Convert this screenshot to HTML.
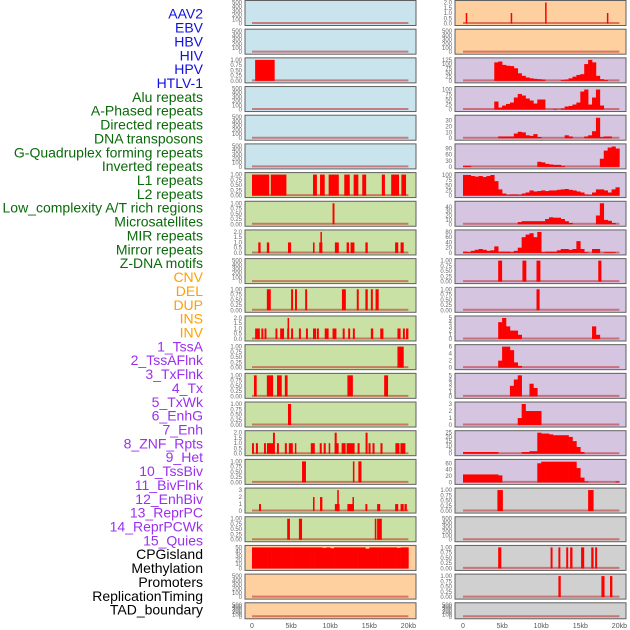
<!DOCTYPE html>
<html><head><meta charset="utf-8">
<style>
html,body{margin:0;padding:0;background:#fff;}
svg{display:block;font-family:"Liberation Sans",sans-serif;}
</style></head>
<body>
<svg id="chart" width="630" height="630" viewBox="0 0 630 630"></svg>
<script>
// ---- labels ----
const labelNames = ["AAV2","EBV","HBV","HIV","HPV","HTLV-1","Alu repeats","A-Phased repeats","Directed repeats","DNA transposons","G-Quadruplex forming repeats","Inverted repeats","L1 repeats","L2 repeats","Low_complexity A/T rich regions","Microsatellites","MIR repeats","Mirror repeats","Z-DNA motifs","CNV","DEL","DUP","INS","INV","1_TssA","2_TssAFlnk","3_TxFlnk","4_Tx","5_TxWk","6_EnhG","7_Enh","8_ZNF_Rpts","9_Het","10_TssBiv","11_BivFlnk","12_EnhBiv","13_ReprPC","14_ReprPCWk","15_Quies","CPGisland","Methylation","Promoters","ReplicationTiming","TAD_boundary"];
const labelGroups = ["v","v","v","v","v","v","r","r","r","r","r","r","r","r","r","r","r","r","r","c","c","c","c","c","s","s","s","s","s","s","s","s","s","s","s","s","s","s","s","o","o","o","o","o"];
const xTickLabels = ["0","5kb","10kb","15kb","20kb"];
const xTickValues = [0,5,10,15,20];

// ---- tick sets ----
const T500 = ["0","100","200","300","400","500"];
const T1 = ["0.00","0.25","0.50","0.75","1.00"];
const T2 = ["0.0","0.5","1.0","1.5","2.0"];

// ---- left column data (bars: [startKb, endKb, value]) ----
const L2_bars = [[0.4,2.9,1]];
const L6_bars = [[0,2.2,1],[2.4,4.4,1],[7.8,8.3,1],[8.7,9.3,1],[9.8,11.1,1],[11.8,12.5,1],[13,13.6,1],[14.1,14.6,1],[16.6,17,1],[17.8,18.8,1],[19.1,19.7,1]];
const L7_bars = [[10.3,10.55,1]];
const L8_bars = [[0.8,1.1,1],[1.9,2.2,1],[4.6,5.0,1],[7.8,8.0,1],[8.6,9.0,1],[8.75,8.9,2],[10.6,11.1,1],[12.1,12.4,1],[12.6,13.1,1],[14.5,14.8,1],[18.3,18.7,1],[19.0,19.4,1]];
const L10_bars = [[1.9,2.4,1],[5.0,5.25,1],[5.5,5.75,1],[6.8,7.05,1],[11.5,12.0,1],[13.4,13.65,1],[14.5,14.8,1],[15.2,15.45,1],[15.8,16.2,1]];
const L11_bars = [[0.4,0.65,1],[0.6,1.0,1],[1.2,1.45,1],[1.6,1.85,1],[3.0,3.25,1],[3.6,4.1,1],[4.5,4.75,1],[4.55,4.7,2],[5.0,5.25,1],[6.0,6.25,1],[6.9,7.15,1],[7.8,8.2,1],[8.3,8.55,1],[9.3,9.8,1],[10.3,10.8,1],[11.6,11.85,1],[12.3,12.55,1],[12.9,13.15,1],[15.2,15.5,1],[16.4,16.8,1],[18.6,19.0,1],[19.3,19.55,1],[19.7,20,1]];
const L12_bars = [[18.6,19.4,1]];
const L13_bars = [[0.25,0.6,1],[1.9,2.7,1],[3.2,3.8,1],[4.2,4.55,1],[12.2,12.9,1],[16.9,17.4,1]];
const L14_bars = [[4.6,5.0,1]];
const L15_bars = [[0,0.25,1],[0.5,0.76,1],[1.53,1.78,1],[1.91,2.8,1],[2.68,2.93,2],[3.19,3.44,1],[4.2,4.46,1],[4.71,5.22,1],[5.48,5.6,1],[7.52,8.03,1],[8.66,8.92,1],[9.17,9.43,1],[9.81,9.94,1],[10.57,11.08,1],[10.57,10.83,2],[11.46,11.97,1],[12.1,13.12,1],[13.5,13.76,1],[14.52,14.78,2],[14.9,15.16,1],[15.41,15.67,1],[16.43,16.69,1],[18.34,18.85,1],[18.98,19.61,1]];
const L16_bars = [[6.4,6.9,1],[12.9,13.1,1],[13.6,14.0,1]];
const L17_bars = [[0.9,1.15,1],[7.8,8.0,2],[8.7,9.0,2],[10.6,11.2,1],[10.9,11.1,3],[12.2,13.0,1],[12.85,13.0,2],[14.5,14.75,1],[16.0,16.4,1],[18.3,18.7,1],[19.0,19.4,1],[19.5,19.8,1]];
const L18_bars = [[4.5,4.85,1],[6.0,6.4,1],[15.7,15.9,1],[16.0,16.6,1]];
const L19_vals = [50,50,50,50,50,50,50,50,50,50,50,50,50,50,50,50,50,50,49,50,48,50,50,50,50,50,50,50,50,47,50,50,50,50,50,50,50,49,50,50];

// ---- right column data ----
const R0_bars = [[0.35,0.5,1],[6.1,6.25,1],[10.5,10.65,2],[18.4,18.55,1]];
const R2_vals = [0,0,0,0,0,0,0,0,110,115,95,90,88,75,45,30,20,15,12,10,8,0,0,0,0,5,8,15,25,35,40,100,125,110,30,10,5,0,0,0];
const R3_vals = [0,0,0,0,0,0,0,0,40,10,20,28,35,60,78,70,55,45,30,50,50,0,0,3,0,5,15,18,25,35,90,100,25,60,100,20,0,0,0,0];
const R4_vals = [0,0,0,0,0,0,0,0,0,3,3,3,3,8,11,10,5,4,7,2,0,0,0,0,0,0,5,3,0,0,0,3,5,12,35,2,3,3,0,0];
const R5_vals = [5,5,0,0,0,0,0,0,0,0,0,0,0,0,0,0,0,0,0,25,22,15,12,10,10,5,0,0,0,0,0,0,0,0,0,40,80,95,100,90];
const R6_vals = [100,100,95,92,95,90,95,100,70,30,10,3,5,5,3,10,15,25,20,22,25,22,25,25,28,30,32,28,25,20,15,5,3,15,30,30,25,15,30,40];
const R7_vals = [0,0,0,0,0,0,0,0,0,0,0,0,0,0,5,7,7,7,7,7,7,12,16,15,15,12,7,3,0,0,0,0,0,0,20,48,10,8,3,0];
const R8_vals = [5,3,8,12,15,12,8,10,25,5,5,5,3,8,20,60,70,75,60,80,3,5,5,5,10,15,15,12,15,45,15,3,0,15,15,0,3,3,3,0];
const R9_bars = [[4.5,5.0,1],[7.6,8.1,1],[9.4,9.9,1],[17.3,17.7,1]];
const R10_bars = [[9.4,9.8,1]];
const R11_vals = [0,0,0,0,0,0,0,0,0,4,5,3,2,2,1,0,0,0,0,0,0,0,0,0,0,0,0,0,0,0,0,0,0,3,1,0,0,0,0,0];
const R12_vals = [0,0,0,0,0,0,0,0,0,2,6,6,5,1.5,0.5,0,0,0,0,0,0,0,0,0,0,0,0,0,0,0,0,0,0,0,0,0,0,0,0,0];
const R13_vals = [0,0,0,0,0,0,0,0,0,0,0,0,2.5,4,5,0,0,3,2,0,0,0,0,0,0,0,0,0,0,0,0,0,0,0,0,0,0,0,0,0];
const R14_vals = [0,0,0,0,0,0,0,0,0,0,0,0,0,0,1,3,2,2,2,2,0,0,0,0,0,0,0,0,0,0,0,0,0,0,0,0,0,0,0,0];
const R15_vals = [2,2,2,2,2,2,2,2,2,0,0,0,0,0,0,2,2,3,3,25,24,24,23,22,22,22,22,20,15,8,2,0,0,0,0,0,0,0,0,0];
const R16_vals = [25,25,25,25,25,25,25,25,25,22,0,0,0,0,0,0,0,0,0,60,65,65,65,65,65,65,65,65,65,45,15,3,0,0,0,0,0,0,0,3];
const R17_bars = [[4.4,5.1,1],[16.0,16.7,1]];
const R19_bars = [[4.5,4.9,1],[11.2,11.45,1],[12.2,12.45,1],[13.2,13.45,1],[13.7,14.0,1],[15.1,15.5,1],[16.4,16.7,1],[16.9,17.15,1]];
const R20_bars = [[12.2,12.5,1],[17.7,18.1,1],[18.8,19.1,1]];

const BG = {blue:"#c9e4ec", green:"#c9e1a4", peach:"#fecf9f", lav:"#d5c5e1", gray:"#d0d0d0"};
// panel specs: [col,row,bg,ticks,ymax,bars,vals]
const panels = [
 [0,0,"blue",T500,500,null,null],[0,1,"blue",T500,500,null,null],[0,2,"blue",T1,1,L2_bars,null],
 [0,3,"blue",T500,500,null,null],[0,4,"blue",T500,500,null,null],[0,5,"blue",T500,500,null,null],
 [0,6,"green",T1,1,L6_bars,null],[0,7,"green",T1,1,L7_bars,null],[0,8,"green",T2,2,L8_bars,null],
 [0,9,"green",T500,500,null,null],[0,10,"green",T1,1,L10_bars,null],[0,11,"green",T2,2,L11_bars,null],
 [0,12,"green",T1,1,L12_bars,null],[0,13,"green",T1,1,L13_bars,null],[0,14,"green",T1,1,L14_bars,null],
 [0,15,"green",T2,2,L15_bars,null],[0,16,"green",T1,1,L16_bars,null],[0,17,"green",["0","1","2","3"],3,L17_bars,null],
 [0,18,"green",T1,1,L18_bars,null],[0,19,"peach",["0","10","20","30","40","50"],50,null,L19_vals],
 [0,20,"peach",T500,500,null,null],[0,21,"peach",T500,500,null,null],
 [1,0,"peach",T2,2,R0_bars,null],[1,1,"peach",T500,500,null,null],
 [1,2,"lav",["0","25","50","75","100","125"],125,null,R2_vals],
 [1,3,"lav",["0","25","50","75","100"],105,null,R3_vals],
 [1,4,"lav",["0","10","20","30"],36,null,R4_vals],
 [1,5,"lav",["0","30","60","90"],103,null,R5_vals],
 [1,6,"lav",["0","25","50","75","100"],102,null,R6_vals],
 [1,7,"lav",["0","10","20","30","40"],48,null,R7_vals],
 [1,8,"lav",["0","20","40","60","80"],80,null,R8_vals],
 [1,9,"lav",T1,1,R9_bars,null],[1,10,"lav",T1,1,R10_bars,null],
 [1,11,"lav",["0","1","2","3","4","5"],5,null,R11_vals],
 [1,12,"lav",["0","2","4","6"],6,null,R12_vals],
 [1,13,"lav",["0","1","2","3","4","5"],5,null,R13_vals],
 [1,14,"lav",["0","1","2","3"],3,null,R14_vals],
 [1,15,"lav",["0","5","10","15","20","25"],25,null,R15_vals],
 [1,16,"lav",["0","20","40","60"],66,null,R16_vals],
 [1,17,"gray",T1,1,R17_bars,null],[1,18,"gray",T500,500,null,null],
 [1,19,"gray",T1,1,R19_bars,null],[1,20,"gray",T1,1,R20_bars,null],[1,21,"gray",T500,500,null,null]
];

const NS="http://www.w3.org/2000/svg";
const svg=document.getElementById("chart");
function mk(tag,attrs,parent){const e=document.createElementNS(NS,tag);for(const k in attrs)e.setAttribute(k,attrs[k]);(parent||svg).appendChild(e);return e;}
const BIN=0.5;
function panelLeft(col){return col===0?245:455;}
function xScale(col,kb){return (col===0?252:463)+kb*7.82;}
function rowTop(r){return 0.5+r*28.68;}
function rowH(r){return r===21?16:25;}
const colors={v:"#1010e0",r:"#0a6a0a",c:"#ffa000",s:"#9b30f0",o:"#000"};

labelNames.forEach((n,i)=>{
  const t=mk("text",{x:203,y:15+i*13.86,"text-anchor":"end","dominant-baseline":"middle","font-size":"14",fill:colors[labelGroups[i]]});
  
  
  t.textContent=n;
});

panels.forEach(p=>{
  const [col,row,bg,ticks,ymax,bars,vals]=p;
  const g=mk("g",{});
  
  
  const x0=panelLeft(col), top=rowTop(row), h=rowH(row);
  const pt=top+2, pb=top+h-2;
  const ys=v=>pb-v/ymax*(pb-pt);
  const bgr=mk("rect",{x:x0,y:top,width:171,height:h,fill:BG[bg],stroke:"#606060","stroke-width":1},g);
  
  
  ticks.forEach(tl=>{
    const t=mk("text",{x:x0-3,y:ys(parseFloat(tl))+2,"text-anchor":"end","font-size":"6",fill:"#666"},g);
    
    
    t.textContent=tl;
  });
  const base=mk("line",{x1:xScale(col,0),x2:xScale(col,20),y1:pb-0.5,y2:pb-0.5,stroke:"rgba(190,40,40,0.55)","stroke-width":2},g);
  
  
  if(bars){bars.forEach(b=>{
    const xa=xScale(col,b[0]), xb=Math.max(xScale(col,b[1]),xa+1.5);
    const r=mk("rect",{x:xa,y:ys(b[2]),width:xb-xa,height:pb-ys(b[2]),fill:"#ff0000"},g);
    
    
  });}
  if(vals){vals.forEach((v,i)=>{
    if(v<=0)return;
    const xa=xScale(col,i*BIN), xb=xScale(col,(i+1)*BIN);
    const r=mk("rect",{x:xa,y:ys(v),width:xb-xa+0.3,height:pb-ys(v),fill:"#ff0000"},g);
    
    
  });}
});

[0,1].forEach(col=>{
  xTickValues.forEach((v,i)=>{
    const t=mk("text",{x:xScale(col,v),y:628,"text-anchor":"middle","font-size":"7",fill:"#555"});
    
    
    t.textContent=xTickLabels[i];
  });
});
</script>
</body></html>
